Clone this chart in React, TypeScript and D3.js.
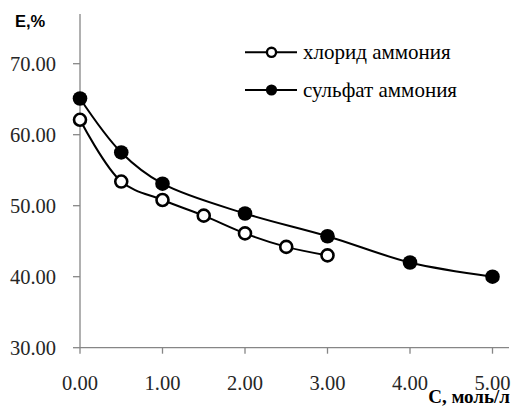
import React from "react";
import * as d3 from "d3";

// концентрация, моль/л
const chlorideX = [0, 0.5, 1, 1.5, 2, 2.5, 3];
const chlorideY = [62.1, 53.4, 50.8, 48.6, 46.1, 44.2, 43.0];
const sulfateX = [0, 0.5, 1, 2, 3, 4, 5];
const sulfateY = [65.1, 57.5, 53.1, 48.9, 45.7, 42.0, 40.0];

const xTicks = [0, 1, 2, 3, 4, 5];
const yTicks = [30, 40, 50, 60, 70];

const seriesNames = ["хлорид аммония", "сульфат аммония"];

const W = 517;
const H = 410;
const AXIS = "#868686";
const SERIF = "'Liberation Serif', 'Times New Roman', serif";

export default function App() {
  const x = d3.scaleLinear().domain([0, 5.2]).range([80, 509]);
  const y = d3.scaleLinear().domain([30, 77]).range([347.7, 14]);

  const line = d3
    .line<[number, number]>()
    .x((d) => x(d[0]))
    .y((d) => y(d[1]))
    .curve(d3.curveCatmullRom.alpha(0.5));

  const chloride = chlorideX.map((v, i) => [v, chlorideY[i]] as [number, number]);
  const sulfate = sulfateX.map((v, i) => [v, sulfateY[i]] as [number, number]);

  const [x0, x1] = x.range();
  const [y0, y1] = y.range();

  return (
    <svg
      width={W}
      height={H}
      style={{ position: "absolute", left: 0, top: 0, background: "#fff" }}
    >
      {/* оси */}
      <line x1={x0} x2={x0} y1={y0} y2={y1} stroke={AXIS} strokeWidth={1.3} />
      <line x1={x0} x2={x1} y1={y0} y2={y0} stroke={AXIS} strokeWidth={1.3} />

      {yTicks.map((t) => (
        <g key={"y" + t}>
          <line x1={x0 - 7} x2={x0} y1={y(t)} y2={y(t)} stroke={AXIS} strokeWidth={1.3} />
          <text
            x={56}
            y={y(t)}
            dy="0.35em"
            textAnchor="end"
            fontFamily={SERIF}
            fontSize={20.5}
            fill="#262626"
          >
            {t.toFixed(2)}
          </text>
        </g>
      ))}

      {xTicks.map((t) => (
        <g key={"x" + t}>
          <line x1={x(t)} x2={x(t)} y1={y0} y2={y0 + 6} stroke={AXIS} strokeWidth={1.3} />
          <text
            x={x(t)}
            y={390}
            textAnchor="middle"
            fontFamily={SERIF}
            fontSize={20.5}
            fill="#262626"
          >
            {t.toFixed(2)}
          </text>
        </g>
      ))}

      <text
        x={15}
        y={27.3}
        fontFamily="'Liberation Sans', Arial, sans-serif"
        fontWeight="bold"
        fontSize={16.5}
        fill="#000"
      >
        E,%
      </text>
      <text
        x={510}
        y={403}
        textAnchor="end"
        fontFamily={SERIF}
        fontWeight="bold"
        fontSize={19}
        fill="#000"
      >
        С, моль/л
      </text>

      {/* кривые */}
      <path d={line(sulfate) ?? ""} fill="none" stroke="#000" strokeWidth={2} />
      <path d={line(chloride) ?? ""} fill="none" stroke="#000" strokeWidth={2} />

      {sulfate.map((d, i) => (
        <circle key={"s" + i} cx={x(d[0])} cy={y(d[1])} r={7.3} fill="#000" />
      ))}
      {chloride.map((d, i) => (
        <circle
          key={"c" + i}
          cx={x(d[0])}
          cy={y(d[1])}
          r={6}
          fill="#fff"
          stroke="#000"
          strokeWidth={2.6}
        />
      ))}

      {/* легенда */}
      {seriesNames.map((name, i) => {
        const ly = 52.3 + i * 37.7;
        return (
          <g key={name}>
            <line x1={245} x2={297} y1={ly} y2={ly} stroke="#000" strokeWidth={2} />
            {i === 0 ? (
              <circle cx={271.5} cy={ly} r={4.6} fill="#fff" stroke="#000" strokeWidth={2.4} />
            ) : (
              <circle cx={271.5} cy={ly} r={5.6} fill="#000" />
            )}
            <text
              x={303}
              y={ly}
              dy="0.33em"
              fontFamily={SERIF}
              fontSize={21}
              fill="#000"
            >
              {name}
            </text>
          </g>
        );
      })}
    </svg>
  );
}
